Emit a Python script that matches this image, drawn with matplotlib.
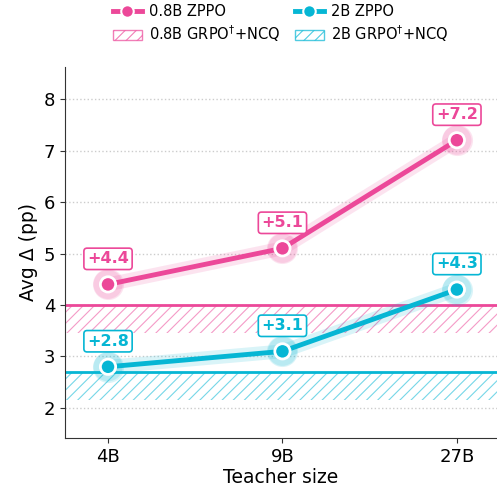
import matplotlib.pyplot as plt
import matplotlib.patheffects as pe
from matplotlib.patches import Patch
from matplotlib.lines import Line2D

teachers = ['4B', '9B', '27B']
zppo_08 = [4.4, 5.1, 7.2]
zppo_2 = [2.8, 3.1, 4.3]
grpo_08 = 4.0
grpo_2 = 2.7
band = 0.55

pink = '#EC4899'
cyan = '#06B6D4'

plt.rcParams['hatch.linewidth'] = 0.8
fig = plt.figure(figsize=(4.97, 4.97), dpi=100)
ax = fig.add_axes([0.131, 0.119, 0.869, 0.746])

x = list(range(len(teachers)))

# baselines: solid line with hatched band below
for val, col in [(grpo_08, pink), (grpo_2, cyan)]:
    ax.axhline(val, color=col, lw=2, zorder=2)
    ax.axhspan(val - band, val, facecolor='none', edgecolor=col, alpha=0.55,
               hatch='///', lw=0, zorder=1)

for ys, col in [(zppo_08, pink), (zppo_2, cyan)]:
    ax.plot(x, ys, color=col, lw=3.5, marker='o', ms=11, mfc=col, mec='white', mew=2,
            zorder=4,
            path_effects=[pe.Stroke(linewidth=10, foreground=col, alpha=0.15), pe.Normal()])
    # halo around markers
    ax.scatter(x, ys, s=500, color=col, alpha=0.15, lw=0, zorder=3)
    for xi, yi in zip(x, ys):
        ax.annotate(f'+{yi:.1f}', (xi, yi), xytext=(0, 13), textcoords='offset points',
                    ha='center', va='bottom', color=col, fontsize=11.5, fontweight='bold',
                    bbox=dict(boxstyle='round,pad=0.2', fc='white', ec=col, lw=1.2),
                    zorder=6)

ax.set_xlim(-0.246, 2.23)
ax.set_ylim(1.42, 8.62)
ax.set_xticks(x)
ax.set_xticklabels(teachers)
ax.set_yticks(range(2, 9))
ax.tick_params(labelsize=13, color='#333333')
ax.set_xlabel('Teacher size', fontsize=13.5, labelpad=2)
ax.set_ylabel('Avg Δ (pp)', fontsize=13.5, labelpad=4)
ax.grid(axis='y', ls=':', color='#cccccc', lw=1)
ax.set_axisbelow(True)
ax.spines['top'].set_visible(False)
ax.spines['right'].set_visible(False)
ax.spines['left'].set_color('#333333')
ax.spines['bottom'].set_color('#333333')

handles = [
    Line2D([], [], color=pink, lw=3.5, marker='o', ms=9, mec='white', mew=1.5),
    Patch(facecolor='none', edgecolor=pink, hatch='///', alpha=0.7),
    Line2D([], [], color=cyan, lw=3.5, marker='o', ms=9, mec='white', mew=1.5),
    Patch(facecolor='none', edgecolor=cyan, hatch='///', alpha=0.7),
]
labels = ['0.8B ZPPO', '0.8B GRPO$^{\\dagger}$+NCQ', '2B ZPPO', '2B GRPO$^{\\dagger}$+NCQ']
fig.legend(handles, labels, ncol=2, loc='upper center', bbox_to_anchor=(0.565, 1.018),
           frameon=False, fontsize=10.5, handlelength=2.0, columnspacing=1.0,
           handletextpad=0.5, labelspacing=0.3)

fig.savefig('out.png', dpi=100)
